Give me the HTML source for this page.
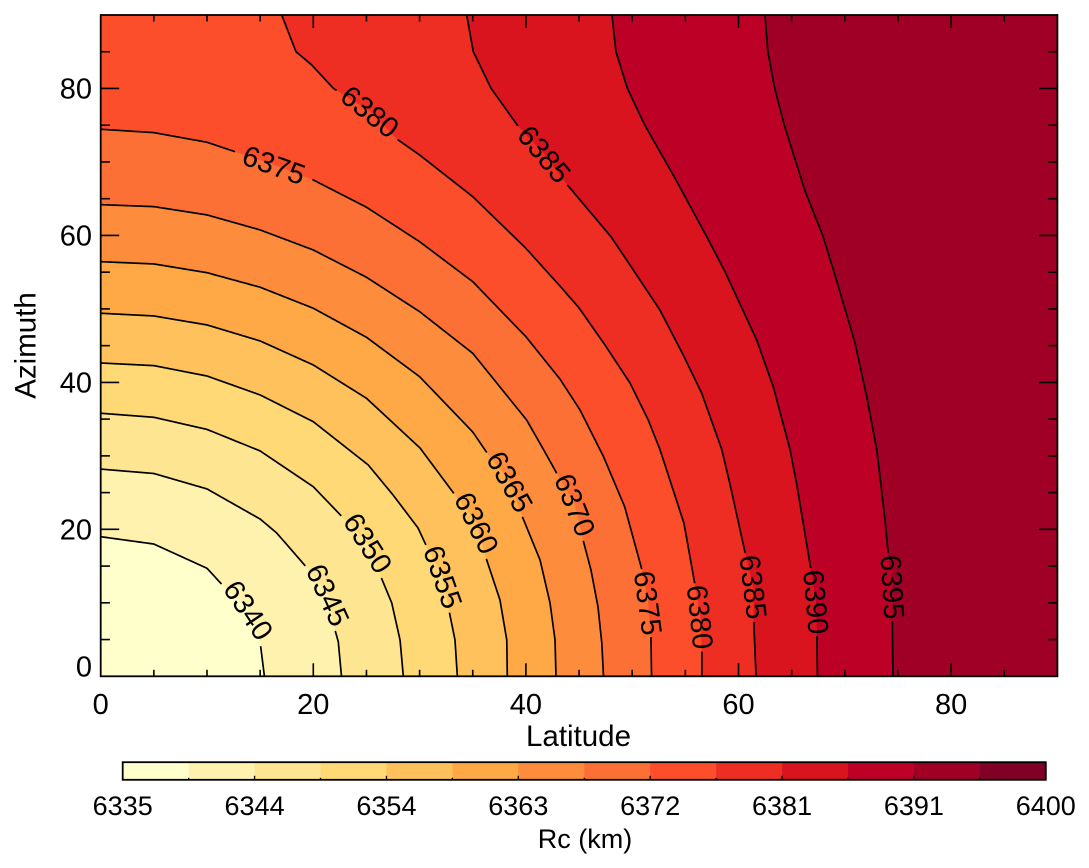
<!DOCTYPE html>
<html lang="en">
<head>
<meta charset="utf-8">
<title>Rc contour chart</title>
<style>
html,body{margin:0;padding:0;background:#fff;}
svg{display:block;}
text{font-family:"Liberation Sans",sans-serif;fill:#000;}
</style>
</head>
<body>
<svg id="chart" xmlns="http://www.w3.org/2000/svg" width="1089" height="868" viewBox="0 0 1089 868">
  <g id="fills"></g>
  <g id="lines"></g>
  <g id="labels"></g>
  <g id="ticks"></g>
  <text x="578.5" y="746" font-size="29.5" text-anchor="middle">Latitude</text>
  <text transform="translate(35.5 345.5) rotate(-90)" font-size="29.5" text-anchor="middle">Azimuth</text>
  <g id="colorbar"></g>
  <text x="585" y="848" font-size="27" text-anchor="middle">Rc (km)</text>
</svg>
<script>
const xTickValues = [0, 20, 40, 60, 80];
const yTickValues = [0, 20, 40, 60, 80];
const minorStep = [5];
const levels = [6340, 6345, 6350, 6355, 6360, 6365, 6370, 6375, 6380, 6385, 6390, 6395];
const palette = ['#FFFFCC','#FFF2AE','#FEE591','#FED976','#FEC15C','#FEA846','#FD8D3C','#FD7035','#FC4E2A','#EE2E22','#DA141E','#BD0026','#A00026','#800026'];
const colorbarTicks = ['6335','6344','6354','6363','6372','6381','6391','6400'];
const colorRange = [6335, 6400];

const contour6340 = [[0,19],[5,18],[10,14.7],[11.3,12.66],[13.9,9.02],[15,4.63],[15.4,0]];
const contour6345 = [[0,28.2],[5,27.6],[10,25.5],[15,21.4],[16.56,19.5],[19.31,14.92],[21.38,11.07],[22.04,6.3],[22.35,4.71],[22.65,0]];
const contour6350 = [[0,35.8],[5,35.25],[10,33.6],[15,30.67],[20,25.8],[22.82,21.55],[25.15,18.14],[26.37,13.5],[27.38,9.98],[28.16,4.94],[28.47,0]];
const contour6355 = [[0,42.64],[5,42.28],[10,40.87],[15,38.29],[20,34.65],[23.29,30.9],[25.17,28.76],[27.5,24.68],[29.85,20.19],[30.67,17.64],[32.2,13.52],[32.77,8.93],[33.33,4.94],[33.55,0]];
const contour6360 = [[0,49.41],[5,49.04],[10,47.82],[15,45.64],[20,42.37],[25,37.84],[30.04,31.07],[33.33,24.68],[35.37,20.87],[36.25,16.1],[37.56,10.39],[38.2,4.94],[38.25,0]];
const contour6365 = [[0,56.43],[5,56.12],[10,54.93],[15,52.95],[20,50.09],[25,46.14],[30,40.78],[35,33.25],[36.37,30.35],[38.5,26.49],[39.6,21.95],[41.33,15.83],[42.27,9.98],[42.74,4.94],[42.83,0]];
const contour6370 = [[0,64.19],[5,63.92],[10,62.79],[15,60.75],[20,58.02],[25,54.31],[30,49.63],[35,43.96],[40.07,34.88],[41.64,30.9],[42.9,27.63],[44.62,23.32],[45.33,18.82],[46.12,14.47],[46.78,9.47],[47.14,4.53],[47.3,0]];
const contour6375 = [[0,74.45],[5,73.99],[10,72.68],[12.63,71.4],[16.3,69.6],[20,67.55],[25,63.84],[30,59.15],[35,53.71],[40,46.22],[43.2,40.46],[45.09,36.25],[47.3,29.89],[49.29,23.08],[50.92,14.47],[51.5,9.98],[51.76,5.62],[51.82,0]];
const contour6380 = [[17.03,90],[18.37,85.01],[19.85,83.2],[21.88,80.03],[25.33,76.85],[27.85,73.13],[30,70.95],[35,65.28],[40,58.25],[43.2,53.12],[45,50.13],[47.44,45.09],[49.79,39.92],[51.51,34.88],[52.6,30.9],[53.24,28.08],[54.87,20.82],[55.88,12.66],[56.4,8.07],[56.55,3.35],[56.55,0]];
const contour6385 = [[34.43,90],[35.05,85.01],[36.72,80.03],[39.29,74.81],[41.73,71.09],[43.77,67.1],[45.09,64.83],[48,59.83],[49.79,55.98],[52.6,49.86],[54.8,43.73],[56.54,38.52],[58.42,30.9],[59.18,26.27],[60.67,16.51],[61.4,12.15],[61.43,7.66],[61.65,0]];
const contour6390 = [[48.1,90],[48.47,85.01],[49.54,80.03],[51.17,75.04],[54.03,67.78],[56.92,60.07],[58.73,55.07],[61.71,45.77],[63.27,39.42],[64.84,30.9],[65.46,26.27],[66.82,14.47],[67.3,10.11],[67.37,5.62],[67.43,0]];
const contour6395 = [[62.49,90],[62.76,85.01],[63.4,80.03],[64.3,75.04],[66.28,65.96],[67.9,60.07],[68.98,55.07],[70.96,45.37],[72.06,38.06],[73,30.9],[73.35,26.72],[73.78,21.27],[74.1,16.51],[74.5,12.15],[74.47,7.66],[74.53,0]];
const contours = [contour6340, contour6345, contour6350, contour6355, contour6360, contour6365, contour6370, contour6375, contour6380, contour6385, contour6390, contour6395];
const labelVertices = [[4],[6],[6],[10],[8],[9],[11],[4,15],[4,18],[4,15],[12],[13]];

const NS = 'http://www.w3.org/2000/svg';
const plot = {left:100.7, right:1057.4, top:15, bottom:676.3};
const xScale = lat => plot.left + lat * (plot.right - plot.left) / 90;
const yScale = az => plot.bottom - az * (plot.bottom - plot.top) / 90;
const bar = {left:122.7, right:1045.8, top:762.2, bottom:779.8};
const barScale = v => bar.left + (v - colorRange[0]) / (colorRange[1] - colorRange[0]) * (bar.right - bar.left);

function mk(tag, parent, attrs, txt) {
  const el = document.createElementNS(NS, tag);
  for (const k in attrs) el.setAttribute(k, attrs[k]);
  if (txt !== undefined) el.textContent = txt;
  parent.appendChild(el);
  return el;
}
const fillsG = document.getElementById('fills');
const linesG = document.getElementById('lines');
const labelsG = document.getElementById('labels');
const ticksG = document.getElementById('ticks');
const barG = document.getElementById('colorbar');

// Highest band as the background
const bg = mk('rect', fillsG, {x:plot.left, y:plot.top, width:plot.right-plot.left, height:plot.bottom-plot.top, fill:palette[levels.length]});



for (let i = levels.length - 1; i >= 0; i--) {
  const pts = contours[i];
  const poly = pts.concat([[0,0],[0,pts[0][1]]]);
  const d = poly.map((p,j) => (j ? 'L' : 'M') + xScale(p[0]).toFixed(2) + ' ' + yScale(p[1]).toFixed(2)).join('') + 'Z';
  const band = mk('path', fillsG, {d:d, fill:palette[i]});
  
  
}

levels.forEach((level, i) => {
  const pts = contours[i].map(p => [xScale(p[0]), yScale(p[1])]);
  const gaps = labelVertices[i].map(idx => {
    const a = pts[idx-1], b = pts[idx+1], c = pts[idx];
    const ang = Math.atan2(b[1]-a[1], b[0]-a[0]);
    const r = 33 + 8 * Math.abs(Math.cos(ang));
    return {c:c, ang:ang, r:r};
  });
  const inside = p => gaps.some(g => Math.hypot(p[0]-g.c[0], p[1]-g.c[1]) < g.r);
  let d = '', pen = false;
  for (let s = 0; s < pts.length - 1; s++) {
    const a = pts[s], b = pts[s+1];
    const n = Math.max(1, Math.ceil(Math.hypot(b[0]-a[0], b[1]-a[1])));
    for (let k = (s === 0 ? 0 : 1); k <= n; k++) {
      const p = [a[0] + (b[0]-a[0])*k/n, a[1] + (b[1]-a[1])*k/n];
      if (inside(p)) { pen = false; continue; }
      d += (pen ? 'L' : 'M') + p[0].toFixed(2) + ' ' + p[1].toFixed(2);
      pen = true;
    }
  }
  const line = mk('path', linesG, {d:d, fill:'none', stroke:'#000', 'stroke-width':1.7, 'stroke-linejoin':'round'});
  
  
  gaps.forEach(g => {
    const deg = g.ang * 180 / Math.PI;
    const t = mk('text', labelsG, {transform:'translate(' + g.c[0].toFixed(2) + ' ' + g.c[1].toFixed(2) + ') rotate(' + deg.toFixed(1) + ')', 'font-size':29, 'text-anchor':'middle', dy:'0.35em'}, String(level));
    
    
  });
});

// Ticks on all four sides of the plot
function tickLine(x1, y1, x2, y2, w) {
  return mk('line', ticksG, {x1:x1, y1:y1, x2:x2, y2:y2, stroke:'#000', 'stroke-width':w});
}
for (let v = minorStep[0]; v < 90; v += minorStep[0]) {
  const major = v % 20 === 0;
  const lenX = major ? 13 : 6.5;
  const lenY = major ? 18.5 : 9.2;
  const xb = tickLine(xScale(v), plot.bottom, xScale(v), plot.bottom - lenX, 1.6);
  
  
  const xt = tickLine(xScale(v), plot.top, xScale(v), plot.top + lenX, 1.6);
  
  
  const yl = tickLine(plot.left, yScale(v), plot.left + lenY, yScale(v), 1.6);
  
  
  const yr = tickLine(plot.right, yScale(v), plot.right - lenY, yScale(v), 1.6);
  
  
}
xTickValues.forEach(v => {
  const t = mk('text', ticksG, {x:xScale(v), y:714, 'font-size':29, 'text-anchor':'middle'}, String(v));
  
  
});
yTickValues.forEach(v => {
  const t = mk('text', ticksG, {x:92, y:v === 0 ? yScale(v) : yScale(v) + 10.2, 'font-size':29, 'text-anchor':'end'}, String(v));
  
  
});
const frame = mk('rect', ticksG, {x:plot.left, y:plot.top, width:plot.right-plot.left, height:plot.bottom-plot.top, fill:'none', stroke:'#000', 'stroke-width':1.8});



// Colorbar
const segWidth = (colorRange[1] - colorRange[0]) / palette.length;
palette.forEach((c, i) => {
  const v0 = colorRange[0] + i * segWidth;
  const x0 = barScale(v0), x1 = barScale(v0 + segWidth);
  const seg = mk('rect', barG, {x:x0, y:bar.top, width:x1 - x0 + 0.3, height:bar.bottom - bar.top, fill:c});
  
  
  if (i > 0) {
    const tk = mk('line', barG, {x1:x0, y1:bar.bottom, x2:x0, y2:bar.bottom - (i % 2 === 0 ? 4 : 2), stroke:'#000', 'stroke-width':1.3});
    
    
  }
});
colorbarTicks.forEach((label, i) => {
  const v = colorRange[0] + i * (colorRange[1] - colorRange[0]) / (colorbarTicks.length - 1);
  const t = mk('text', barG, {x:barScale(v), y:815, 'font-size':27, 'text-anchor':'middle'}, label);
  
  
});
const barFrame = mk('rect', barG, {x:bar.left, y:bar.top, width:bar.right-bar.left, height:bar.bottom-bar.top, fill:'none', stroke:'#000', 'stroke-width':1.8});


</script>
</body>
</html>
